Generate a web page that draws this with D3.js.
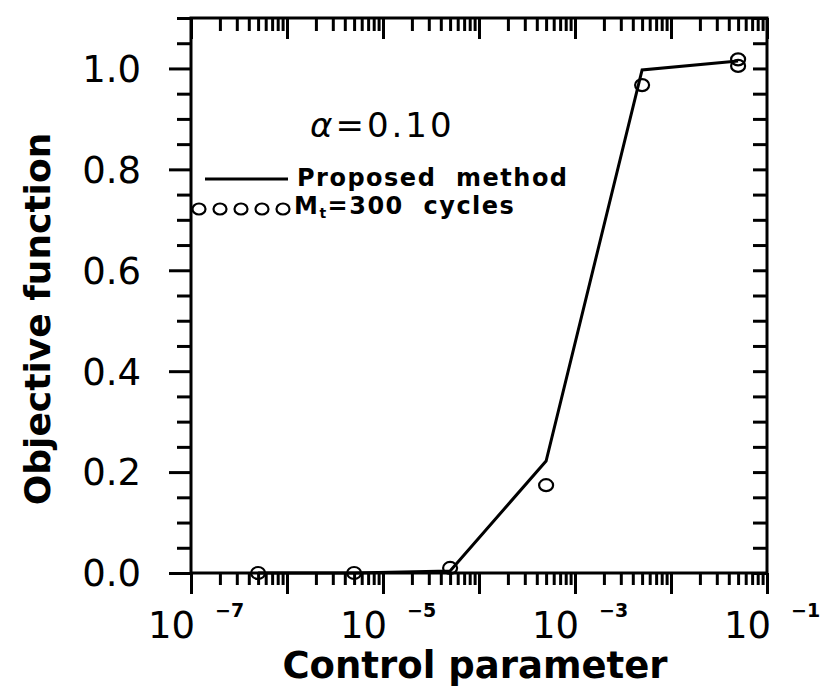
<!DOCTYPE html>
<meta charset="utf-8">
<head>
<style>
body { margin: 0; background: #fff; }
.axis path { display: none; }
.axis line { stroke: #000; stroke-width: 3; }
.tick-label { font-family: "DejaVu Sans", sans-serif; font-size: 37px; fill: #000; }
.title { font-family: "DejaVu Sans", sans-serif; font-weight: bold; font-size: 37px; fill: #000; }
.legend-text { font-family: "DejaVu Sans", sans-serif; font-weight: bold; font-size: 24px; letter-spacing: 1.5px; fill: #000; white-space: pre; }
</style>
</head>
<body>
<script src="https://cdn.jsdelivr.net/npm/d3@7"></script>
<svg id="chart" width="831" height="694"></svg>
<script>

// control parameter values where the methods were evaluated
var controlParams = [5e-7, 5e-6, 5e-5, 5e-4, 5e-3, 5e-2];
// proposed method (solid line)
var proposed = [0, 0, 0.004, 0.222, 0.997, 1.015];
// Mt=300 cycles (open circles), two overlapping points at 5e-2
var cycleParams = [5e-7, 5e-6, 5e-5, 5e-4, 5e-3, 5e-2, 5e-2];
var cycleValues = [0, 0, 0.01, 0.174, 0.967, 1.005, 1.018];

var yTicksMajor = [0, 0.2, 0.4, 0.6, 0.8, 1.0];
var xLabelDecades = [-7, -5, -3, -1];

var svg = d3.select("#chart"),
    margin = {top: 18, right: 64, bottom: 121, left: 191},
    width = +svg.attr("width") - margin.left - margin.right,
    height = +svg.attr("height") - margin.top - margin.bottom,
    g = svg.append("g").attr("transform", "translate(" + margin.left + "," + margin.top + ")");

var x = d3.scaleLog().domain([1e-7, 1e-1]).range([0, width]);
var y = d3.scaleLinear().domain([0, 1.1]).range([height, 0]);

// log ticks
var decades = [], minors = [];
for (var e = -7; e <= -1; e++) {
  decades.push(Math.pow(10, e));
  if (e < -1) for (var k = 2; k <= 9; k++) minors.push(k * Math.pow(10, e));
}
var yMinor = d3.range(0, 23).map(function(i) { return +(i * 0.05).toFixed(2); })
  .filter(function(v) { return yTicksMajor.indexOf(v) < 0; });

// bottom: ticks hang below the frame
g.append("g").attr("class", "axis").attr("transform", "translate(0," + height + ")")
  .call(d3.axisBottom(x).tickValues(decades).tickSize(21).tickFormat(""));
g.append("g").attr("class", "axis").attr("transform", "translate(0," + height + ")")
  .call(d3.axisBottom(x).tickValues(minors).tickSize(12).tickFormat(""));
// top: ticks point inward
g.append("g").attr("class", "axis")
  .call(d3.axisBottom(x).tickValues(decades).tickSize(21).tickFormat(""));
g.append("g").attr("class", "axis")
  .call(d3.axisBottom(x).tickValues(minors).tickSize(13).tickFormat(""));
// left: outward
g.append("g").attr("class", "axis")
  .call(d3.axisLeft(y).tickValues(yTicksMajor).tickSize(22).tickFormat(""));
g.append("g").attr("class", "axis")
  .call(d3.axisLeft(y).tickValues(yMinor).tickSize(14).tickFormat(""));
// right: inward
g.append("g").attr("class", "axis").attr("transform", "translate(" + width + ",0)")
  .call(d3.axisLeft(y).tickValues(yTicksMajor.concat(yMinor)).tickSize(14).tickFormat(""));

g.append("rect")
  .attr("width", width).attr("height", height)
  .attr("fill", "none").attr("stroke", "#000").attr("stroke-width", 3);

// y tick labels
g.selectAll(".ylab").data(yTicksMajor).enter().append("text")
  .attr("class", "tick-label")
  .attr("x", -50).attr("y", function(d) { return y(d); })
  .attr("dy", "0.36em").attr("text-anchor", "end")
  .text(function(d) { return d.toFixed(1); });

// x tick labels 10^n
var xl = g.selectAll(".xlab").data(xLabelDecades).enter().append("g")
  .attr("transform", function(d) { return "translate(" + x(Math.pow(10, d)) + "," + height + ")"; });
xl.append("text").attr("class", "tick-label")
  .attr("x", 4).attr("y", 65).attr("text-anchor", "end").text("10");
xl.append("text")
  .attr("x", 24).attr("y", 44)
  .style("font-family", "DejaVu Sans, sans-serif").style("font-weight", "bold").style("font-size", "19px")
  .text(function(d) { return "−" + (-d); });

// axis titles
svg.append("text").attr("class", "title")
  .attr("x", 475).attr("y", 678).attr("text-anchor", "middle")
  .text("Control parameter");
svg.append("text").attr("class", "title")
  .attr("transform", "translate(50,319) rotate(-90)").attr("text-anchor", "middle")
  .style("font-size", "36px")
  .text("Objective function");

// proposed method line
var line = d3.line()
  .x(function(d, i) { return x(controlParams[i]); })
  .y(function(d) { return y(d); });
g.append("path").datum(proposed)
  .attr("d", line).attr("fill", "none").attr("stroke", "#000").attr("stroke-width", 3);

// Mt=300 cycles markers
g.selectAll(".pt").data(cycleValues).enter().append("ellipse")
  .attr("cx", function(d, i) { return x(cycleParams[i]); })
  .attr("cy", function(d) { return y(d); })
  .attr("rx", 7).attr("ry", 6)
  .attr("fill", "none").attr("stroke", "#000").attr("stroke-width", 2.2);

// legend
var a = svg.append("text")
  .attr("x", 310).attr("y", 137)
  .style("font-family", "DejaVu Sans, sans-serif").style("font-size", "34px").style("letter-spacing", "3px");
a.append("tspan").style("font-style", "italic").text("α");
a.append("tspan").text("=0.10");

svg.append("line").attr("x1", 205).attr("x2", 288).attr("y1", 179).attr("y2", 179)
  .attr("stroke", "#000").attr("stroke-width", 3);
svg.append("text").attr("class", "legend-text").attr("x", 297).attr("y", 186)
  .text("Proposed  method");

svg.selectAll(".lc").data(d3.range(5)).enter().append("ellipse")
  .attr("cx", function(d) { return 199 + d * 21; }).attr("cy", 209)
  .attr("rx", 6.5).attr("ry", 5.5)
  .attr("fill", "none").attr("stroke", "#000").attr("stroke-width", 2.2);
var m = svg.append("text").attr("class", "legend-text").attr("x", 294).attr("y", 214);
m.append("tspan").text("M");
m.append("tspan").attr("dy", 4).style("font-size", "14px").text("t");
m.append("tspan").attr("dy", -4).text("=300  cycles");

</script>
</body>
</html>
